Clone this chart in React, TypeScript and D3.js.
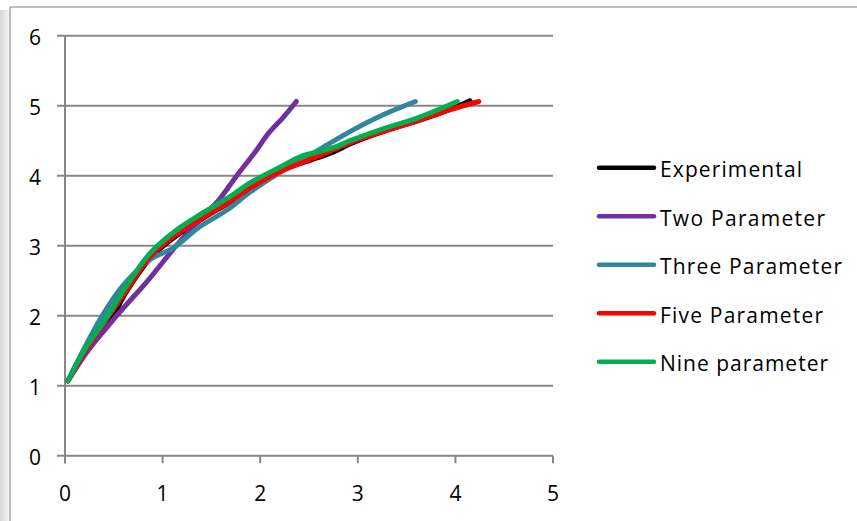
import React from "react";
import * as d3 from "d3";

const W = 857;
const H = 521;

const seriesNames = ["Experimental", "Two Parameter", "Three Parameter", "Five Parameter", "Nine parameter"];
const seriesColors = ["#000000", "#7030A0", "#31859C", "#FF0000", "#00B050"];

const experimentalX = [0.03, 0.25, 0.43, 0.5, 0.62, 0.88, 1.1, 1.4, 1.7, 1.95, 2.3, 2.6, 2.75, 2.95, 3.3, 3.65, 3.95, 4.15];
const experimentalY = [1.07, 1.55, 1.84, 2.0, 2.32, 2.83, 3.1, 3.38, 3.63, 3.86, 4.12, 4.26, 4.34, 4.47, 4.65, 4.8, 4.95, 5.07];

const twoX = [0.03, 0.24, 0.53, 0.86, 1.14, 1.41, 1.58, 1.76, 1.96, 2.07, 2.24, 2.37];
const twoY = [1.07, 1.51, 2.0, 2.52, 3.0, 3.41, 3.66, 4.0, 4.36, 4.58, 4.84, 5.06];

const threeX = [0.03, 0.2, 0.39, 0.6, 0.87, 1.11, 1.38, 1.66, 1.9, 2.24, 2.54, 2.92, 3.26, 3.59];
const threeY = [1.07, 1.54, 2.02, 2.44, 2.8, 2.97, 3.27, 3.51, 3.77, 4.08, 4.32, 4.63, 4.87, 5.06];

const fiveX = [0.03, 0.2, 0.45, 0.6, 0.87, 1.11, 1.38, 1.69, 1.9, 2.24, 2.58, 2.92, 3.26, 3.6, 3.94, 4.24];
const fiveY = [1.07, 1.48, 2.0, 2.3, 2.84, 3.13, 3.37, 3.63, 3.83, 4.08, 4.27, 4.47, 4.63, 4.78, 4.94, 5.06];

const nineX = [0.03, 0.19, 0.43, 0.6, 0.87, 1.14, 1.38, 1.69, 1.9, 2.24, 2.41, 2.75, 2.92, 3.26, 3.6, 4.02];
const nineY = [1.07, 1.49, 1.98, 2.36, 2.89, 3.22, 3.44, 3.7, 3.9, 4.15, 4.27, 4.4, 4.5, 4.67, 4.82, 5.06];

const seriesXs = [experimentalX, twoX, threeX, fiveX, nineX];
const seriesYs = [experimentalY, twoY, threeY, fiveY, nineY];

const xTicks = [0, 1, 2, 3, 4, 5];
const yTicks = [0, 1, 2, 3, 4, 5, 6];
const legendWidths = [142, 165, 182, 163, 168];

export default function App() {
  const x = d3.scaleLinear().domain([0, 5]).range([65, 553]);
  const y = d3.scaleLinear().domain([0, 6]).range([455.7, 35.7]);
  const line = d3
    .line<[number, number]>()
    .x((d) => x(d[0]))
    .y((d) => y(d[1]))
    .curve(d3.curveCatmullRom.alpha(0.5));

  const font = "'Open Sans', Lato, sans-serif";
  const grid = "#878787";

  return (
    <svg
      width={W}
      height={H}
      style={{ position: "absolute", left: 0, top: 0, background: "#fff" }}
    >
      <defs>
        <linearGradient id="shade" x1="0" x2="1" y1="0" y2="0">
          <stop offset="0" stopColor="#d6d6d6" />
          <stop offset="1" stopColor="#f2f2f2" />
        </linearGradient>
      </defs>
      <rect x={0} y={0} width={W} height={H} fill="#fff" />
      <rect x={0} y={10} width={9} height={H - 10} fill="url(#shade)" />
      {/* frame */}
      <line x1={10} x2={W} y1={7} y2={7} stroke="#a6a6a6" strokeWidth={1.5} />
      <line x1={10} x2={10} y1={7} y2={H} stroke="#a6a6a6" strokeWidth={1.5} />

      {/* horizontal gridlines */}
      {yTicks.map((t) => (
        <line key={"g" + t} x1={57} x2={553} y1={y(t)} y2={y(t)} stroke={grid} strokeWidth={2} />
      ))}
      {/* y axis */}
      <line x1={x(0)} x2={x(0)} y1={y(6)} y2={y(0) + 7.5} stroke={grid} strokeWidth={2} />
      {/* x ticks */}
      {xTicks.map((t) => (
        <line key={"xt" + t} x1={x(t)} x2={x(t)} y1={y(0)} y2={y(0) + 7.5} stroke={grid} strokeWidth={2} />
      ))}
      {/* y labels */}
      {yTicks.map((t) => (
        <text key={"yl" + t} x={41} y={y(t) + 9.5} textAnchor="end" fontFamily={font} fontSize={21} fill="#000">
          {t}
        </text>
      ))}
      {/* x labels */}
      {xTicks.map((t) => (
        <text key={"xl" + t} x={x(t)} y={501} textAnchor="middle" fontFamily={font} fontSize={21} fill="#000">
          {t}
        </text>
      ))}

      {/* series */}
      {seriesNames.map((n, i) => {
        const pts = seriesXs[i].map((v, j) => [v, seriesYs[i][j]] as [number, number]);
        return (
          <path
            key={n}
            d={line(pts) || ""}
            fill="none"
            stroke={seriesColors[i]}
            strokeWidth={5}
            strokeLinecap="round"
            strokeLinejoin="round"
          />
        );
      })}

      {/* legend */}
      {seriesNames.map((n, i) => {
        const ly = 167.7 + i * 48.5;
        return (
          <g key={"lg" + n}>
            <line x1={599} x2={654} y1={ly} y2={ly} stroke={seriesColors[i]} strokeWidth={4.5} strokeLinecap="round" />
            <text
              x={660}
              y={ly + 9.5}
              fontFamily={font}
              fontSize={21}
              fill="#000"
              textLength={legendWidths[i]}
              lengthAdjust="spacing"
            >
              {n}
            </text>
          </g>
        );
      })}
    </svg>
  );
}
